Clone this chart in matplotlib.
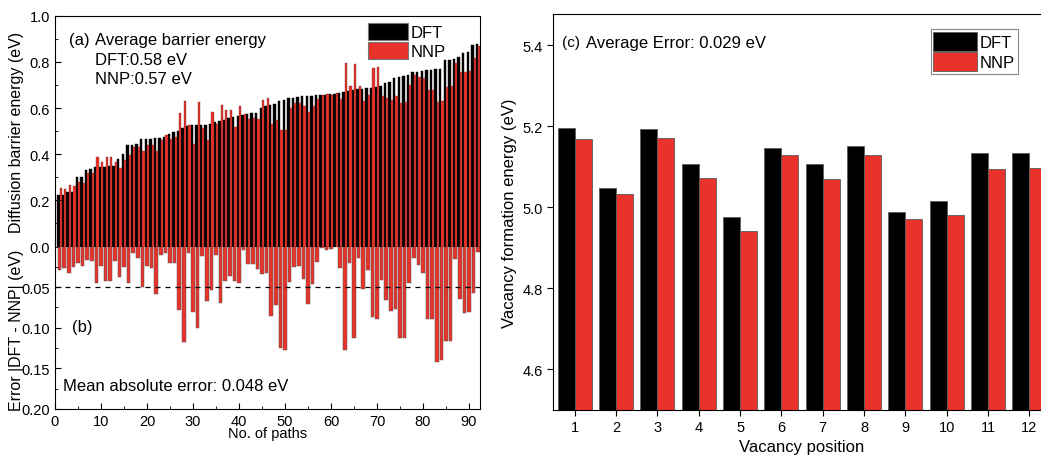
import numpy as np
import matplotlib.pyplot as plt
from matplotlib.ticker import MultipleLocator

plt.rcParams['font.family'] = ['Liberation Sans', 'DejaVu Sans']

RED = '#e8322a'
EDGE = '#5a5a5a'

# (a) diffusion barriers of the 92 paths, sorted by DFT value
dft_barrier = [0.225, 0.223, 0.235, 0.238, 0.300, 0.300, 0.333, 0.335, 0.343, 0.343,
               0.345, 0.347, 0.350, 0.378, 0.400, 0.440, 0.440, 0.445, 0.465, 0.465,
               0.466, 0.470, 0.472, 0.476, 0.487, 0.494, 0.500, 0.512, 0.520, 0.525,
               0.526, 0.527, 0.528, 0.530, 0.540, 0.545, 0.550, 0.555, 0.562, 0.565,
               0.570, 0.575, 0.578, 0.580, 0.600, 0.610, 0.615, 0.618, 0.631, 0.633,
               0.644, 0.645, 0.646, 0.650, 0.652, 0.653, 0.656, 0.657, 0.658, 0.660,
               0.662, 0.667, 0.670, 0.675, 0.680, 0.682, 0.684, 0.686, 0.688, 0.690,
               0.694, 0.710, 0.712, 0.730, 0.733, 0.738, 0.745, 0.755, 0.757, 0.762,
               0.765, 0.766, 0.768, 0.770, 0.807, 0.810, 0.812, 0.820, 0.840, 0.842,
               0.872, 0.877]
nnp_barrier = [0.254, 0.249, 0.267, 0.263, 0.280, 0.276, 0.317, 0.317, 0.388, 0.367,
               0.388, 0.389, 0.368, 0.341, 0.375, 0.395, 0.432, 0.431, 0.415, 0.441,
               0.439, 0.412, 0.461, 0.484, 0.467, 0.474, 0.578, 0.629, 0.528, 0.444,
               0.626, 0.515, 0.461, 0.584, 0.529, 0.614, 0.592, 0.591, 0.519, 0.610,
               0.574, 0.553, 0.556, 0.552, 0.634, 0.643, 0.529, 0.546, 0.506, 0.506,
               0.600, 0.620, 0.622, 0.610, 0.581, 0.607, 0.637, 0.655, 0.662, 0.657,
               0.663, 0.640, 0.797, 0.695, 0.792, 0.696, 0.632, 0.657, 0.775, 0.779,
               0.653, 0.644, 0.633, 0.653, 0.620, 0.626, 0.700, 0.741, 0.734, 0.729,
               0.676, 0.677, 0.626, 0.630, 0.691, 0.694, 0.797, 0.755, 0.758, 0.761,
               0.815, 0.870]
# (b) absolute error per path
abs_error = [0.029, 0.026, 0.032, 0.025, 0.020, 0.024, 0.016, 0.018, 0.045, 0.024,
             0.043, 0.042, 0.018, 0.037, 0.025, 0.045, 0.008, 0.014, 0.050, 0.024,
             0.027, 0.058, 0.011, 0.008, 0.020, 0.020, 0.078, 0.117, 0.008, 0.081,
             0.100, 0.012, 0.067, 0.054, 0.011, 0.069, 0.042, 0.036, 0.043, 0.045,
             0.004, 0.022, 0.022, 0.028, 0.034, 0.033, 0.086, 0.072, 0.125, 0.127,
             0.044, 0.025, 0.024, 0.040, 0.071, 0.046, 0.019, 0.002, 0.004, 0.003,
             0.001, 0.027, 0.127, 0.020, 0.112, 0.014, 0.052, 0.029, 0.087, 0.089,
             0.041, 0.066, 0.079, 0.077, 0.113, 0.112, 0.045, 0.014, 0.023, 0.033,
             0.089, 0.089, 0.142, 0.140, 0.116, 0.116, 0.015, 0.065, 0.082, 0.081,
             0.057, 0.007]
paths = np.arange(1, len(dft_barrier) + 1)

# (c) vacancy formation energies
vac_pos = np.arange(1, 13)
dft_vac = [5.195, 5.047, 5.193, 5.108, 4.977, 5.147, 5.106, 5.150, 4.989, 5.015, 5.134, 5.135]
nnp_vac = [5.169, 5.034, 5.170, 5.072, 4.942, 5.130, 5.069, 5.129, 4.971, 4.980, 5.095, 5.097]

fig = plt.figure(figsize=(10.41, 4.56), dpi=100)
ax_a = fig.add_axes([0.0528, 0.4572, 0.4083, 0.5062])
ax_b = fig.add_axes([0.0528, 0.1009, 0.4083, 0.3563])
ax_c = fig.add_axes([0.5315, 0.0987, 0.478, 0.8677])

# ---- (a)
ax_a.bar(paths - 0.25, dft_barrier, width=0.5, color='black', edgecolor='black',
         linewidth=0.3, label='DFT')
ax_a.bar(paths + 0.25, nnp_barrier, width=0.5, color=RED, edgecolor='#6a2a25',
         linewidth=0.25, label='NNP')
ax_a.set_xlim(0, 92.4)
ax_a.set_ylim(0, 1.0)
ax_a.yaxis.set_minor_locator(MultipleLocator(0.1))
ax_a.set_yticks([0.0, 0.2, 0.4, 0.6, 0.8, 1.0])
ax_a.set_yticklabels(['0.0', '0.2', '0.4', '0.6', '0.8', '1.0'])
ax_a.set_xticks([])
ax_a.spines['bottom'].set_visible(False)
ax_a.tick_params(axis='y', which='both', direction='in', labelsize=10.5)
ax_a.tick_params(axis='y', which='major', length=4)
ax_a.tick_params(axis='y', which='minor', length=2.5)
ax_a.text(0.032, 0.895, '(a)', transform=ax_a.transAxes, fontsize=12, va='center')
ax_a.text(0.095, 0.895, 'Average barrier energy', transform=ax_a.transAxes,
          fontsize=12, va='center')
ax_a.text(0.095, 0.81, 'DFT:0.58 eV', transform=ax_a.transAxes, fontsize=12, va='center')
ax_a.text(0.095, 0.73, 'NNP:0.57 eV', transform=ax_a.transAxes, fontsize=12, va='center')
leg_a = ax_a.legend(loc='upper left', bbox_to_anchor=(0.71, 1.015), frameon=False,
                    fontsize=12, handlelength=2.4, handleheight=1.2, handletextpad=0.2,
                    labelspacing=0.1, borderaxespad=0.25)
for h in leg_a.legend_handles:
    h.set_edgecolor('#777777')
    h.set_linewidth(0.8)

# ---- (b)
ax_b.bar(paths, abs_error, width=0.8, color=RED, edgecolor=EDGE, linewidth=0.35)
ax_b.axhline(0.05, color='black', linestyle=(0, (4, 4)), linewidth=0.9)
ax_b.set_xlim(0, 92.4)
ax_b.set_ylim(0.2, 0)
ax_b.set_yticks([0.05, 0.10, 0.15, 0.20])
ax_b.set_yticklabels(['0.05', '0.10', '0.15', '0.20'])
ax_b.yaxis.set_minor_locator(MultipleLocator(0.025))
ax_b.xaxis.set_major_locator(MultipleLocator(10))
ax_b.xaxis.set_minor_locator(MultipleLocator(5))
ax_b.spines['top'].set_visible(False)
ax_b.tick_params(which='both', direction='in', labelsize=10.5)
ax_b.tick_params(which='major', length=4)
ax_b.tick_params(which='minor', length=2.5)
ax_b.set_xlabel('No. of paths', fontsize=10.5, labelpad=-1)
ax_b.text(0.04, 0.505, '(b)', transform=ax_b.transAxes, fontsize=12, va='center')
ax_b.text(0.02, 0.145, 'Mean absolute error: 0.048 eV', transform=ax_b.transAxes,
          fontsize=12, va='center')

fig.text(0.016, 0.71, 'Diffusion barrier energy (eV)', rotation=90, ha='center',
         va='center', fontsize=11.5)
fig.text(0.016, 0.275, 'Error |DFT - NNP| (eV)', rotation=90, ha='center',
         va='center', fontsize=11.5)

# ---- (c)
ax_c.bar(vac_pos - 0.205, dft_vac, width=0.41, color='black', edgecolor=EDGE,
         linewidth=0.6, label='DFT')
ax_c.bar(vac_pos + 0.205, nnp_vac, width=0.41, color=RED, edgecolor=EDGE,
         linewidth=0.6, label='NNP')
ax_c.set_xlim(0.48, 12.52)
ax_c.set_ylim(4.5, 5.476)
ax_c.set_xticks(vac_pos)
ax_c.set_yticks([4.6, 4.8, 5.0, 5.2, 5.4])
ax_c.set_yticklabels(['4.6', '4.8', '5.0', '5.2', '5.4'])
ax_c.tick_params(direction='out', length=4, labelsize=10.5)
ax_c.spines['right'].set_visible(False)
ax_c.set_xlabel('Vacancy position', fontsize=12, labelpad=3.5)
ax_c.set_ylabel('Vacancy formation energy (eV)', fontsize=12, labelpad=4)
ax_c.text(0.018, 0.93, '(c)', transform=ax_c.transAxes, fontsize=11, va='center')
ax_c.text(0.065, 0.93, 'Average Error: 0.029 eV', transform=ax_c.transAxes,
          fontsize=12, va='center')
leg = ax_c.legend(loc='upper left', bbox_to_anchor=(0.742, 0.983), fontsize=12,
                  handlelength=2.6, handleheight=1.4, handletextpad=0.2,
                  labelspacing=0.05, borderpad=0.15, fancybox=False,
                  edgecolor='#888888', framealpha=1)
leg.get_frame().set_linewidth(0.8)

plt.savefig('out.png', dpi=100)
